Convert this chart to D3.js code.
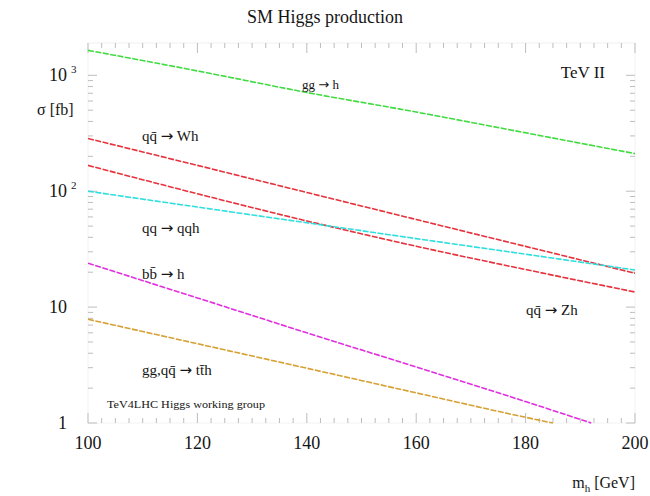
<!DOCTYPE html>
<html>
<head>
<meta charset="utf-8">
<script src="https://cdn.jsdelivr.net/npm/d3@7"></script>
<style>
  html, body { margin: 0; padding: 0; background: #fff; }
  svg text { font-family: "Liberation Serif", "DejaVu Serif", serif; fill: #151515; }
</style>
</head>
<body>
<div id="chart"></div>
<script>
// Higgs mass points (GeV) and cross sections (fb)
const masses = [100, 120, 140, 160, 180, 200];
const ggH = [1643, 1091, 711, 482, 319, 211];
const WH = [285, 167, 97.5, 57, 33.4, 19.6];
const ZH = [167, 95, 55.4, 33.5, 21.1, 13.5];
const qqH = [100, 73, 53.4, 39, 28.6, 20.9];
const bbMasses = [100, 120, 140, 160, 180, 192];
const bbH = [23.9, 12, 6.0, 3.04, 1.53, 1.0];
const ttMasses = [100, 120, 140, 160, 180, 185];
const ttH = [7.85, 4.83, 2.97, 1.82, 1.12, 1.0];

const xTicks = [100, 120, 140, 160, 180, 200];
const yTicks = [1, 10, 100, 1000];

const width = 650, height = 496;
const plotLeft = 88, plotRight = 635, plotTop = 43, plotBottom = 423;

const svg = d3.select("#chart").append("svg")
    .attr("width", width)
    .attr("height", height);

const x = d3.scaleLinear().domain([100, 200]).range([plotLeft, plotRight]);
const y = d3.scaleLog().domain([1, 1900]).range([plotBottom, plotTop]);

// faint frame
svg.append("rect")
    .attr("x", plotLeft).attr("y", plotTop)
    .attr("width", plotRight - plotLeft).attr("height", plotBottom - plotTop)
    .attr("fill", "none")
    .attr("stroke", "#f2f2f2")
    .attr("stroke-width", 1);

const tickColor = "#bdbdbd";
const ticks = svg.append("g").attr("stroke", tickColor).attr("stroke-width", 1);

// x ticks top and bottom
const xMinor = d3.range(100, 200.01, 2.5);
xMinor.forEach(v => {
    const major = Math.abs(v % 20) < 1e-6;
    const len = major ? 10 : 5;
    ticks.append("line").attr("x1", x(v)).attr("x2", x(v))
        .attr("y1", plotBottom).attr("y2", plotBottom - len);
    ticks.append("line").attr("x1", x(v)).attr("x2", x(v))
        .attr("y1", plotTop).attr("y2", plotTop + len);
});

// y ticks left and right (log minor)
const yMinor = [];
[1, 10, 100, 1000].forEach(d => {
    for (let k = 1; k <= 9; k++) {
        const v = d * k;
        if (v <= 1900) yMinor.push(v);
    }
});
yMinor.forEach(v => {
    const major = yTicks.includes(v);
    const len = major ? 9 : 5;
    ticks.append("line").attr("x1", plotLeft).attr("x2", plotLeft + len)
        .attr("y1", y(v)).attr("y2", y(v));
    ticks.append("line").attr("x1", plotRight).attr("x2", plotRight - len)
        .attr("y1", y(v)).attr("y2", y(v));
});

// x tick labels
svg.append("g").selectAll("text")
    .data(xTicks)
    .enter()
    .append("text")
    .attr("x", d => x(d))
    .attr("y", 449)
    .attr("text-anchor", "middle")
    .attr("font-size", 18)
    .text(d => d);

// y tick labels
const yLab = svg.append("g");
yTicks.forEach(v => {
    const t = yLab.append("text")
        .attr("y", y(v) + 6)
        .attr("font-size", 18);
    if (v >= 100) {
        t.attr("x", 49);
        t.append("tspan").text("10");
        t.append("tspan").attr("dx", 4).attr("dy", -8).attr("font-size", 11)
            .text(Math.round(Math.log10(v)));
    } else {
        t.attr("x", 67).attr("text-anchor", "end").text(v);
    }
});

// curves
const clip = svg.append("clipPath").attr("id", "plotclip");
clip.append("rect").attr("x", plotLeft).attr("y", plotTop - 2)
    .attr("width", plotRight - plotLeft + 1).attr("height", plotBottom - plotTop + 3);

const series = [
    { m: masses, v: ggH, color: "#3fdc3f" },
    { m: masses, v: WH, color: "#e5323c" },
    { m: masses, v: ZH, color: "#e5323c" },
    { m: masses, v: qqH, color: "#2fdede" },
    { m: bbMasses, v: bbH, color: "#e02ee0" },
    { m: ttMasses, v: ttH, color: "#d6a032" }
];

const line = d3.line()
    .x(d => x(d[0]))
    .y(d => y(d[1]))
    .curve(d3.curveMonotoneX);

svg.append("g").attr("clip-path", "url(#plotclip)")
    .selectAll("path")
    .data(series)
    .enter()
    .append("path")
    .attr("d", s => line(s.m.map((m, i) => [m, s.v[i]])))
    .attr("fill", "none")
    .attr("stroke", s => s.color)
    .attr("stroke-width", 1.6)
    .attr("stroke-dasharray", "6,1.5");

// texts
svg.append("text").attr("x", 325).attr("y", 23).attr("text-anchor", "middle")
    .attr("font-size", 18).text("SM Higgs production");

svg.append("text").attr("x", 605).attr("y", 78).attr("text-anchor", "end")
    .attr("font-size", 17).text("TeV II");

svg.append("text").attr("x", 37).attr("y", 115).attr("font-size", 16).text("σ [fb]");

const mh = svg.append("text").attr("x", 635).attr("y", 488).attr("text-anchor", "end")
    .attr("font-size", 16);
mh.append("tspan").text("m");
mh.append("tspan").attr("dy", 4).attr("font-size", 11).text("h");
mh.append("tspan").attr("dy", -4).text(" [GeV]");

// process labels: [initial state, final state]
const procLabels = [
    { a: "gg", b: "h", x: 302, y: 89, size: 13 },
    { a: "qq̄", b: "Wh", x: 142, y: 141, size: 15 },
    { a: "qq", b: "qqh", x: 142, y: 233, size: 15 },
    { a: "bb̄", b: "h", x: 142, y: 279, size: 15 },
    { a: "qq̄", b: "Zh", x: 526, y: 315, size: 15 },
    { a: "gg,qq̄", b: "tt̄h", x: 142, y: 375, size: 15 }
];
const procText = svg.append("g").selectAll("text")
    .data(procLabels)
    .enter()
    .append("text")
    .attr("x", d => d.x)
    .attr("y", d => d.y)
    .attr("font-size", d => d.size);
procText.append("tspan").text(d => d.a + " ");
procText.append("tspan").attr("font-family", "DejaVu Sans").text("→");
procText.append("tspan").text(d => " " + d.b);

svg.append("text").attr("x", 107).attr("y", 408).attr("font-size", 10.5)
    .attr("textLength", 158).attr("lengthAdjust", "spacingAndGlyphs")
    .text("TeV4LHC Higgs working group");
</script>
</body>
</html>
